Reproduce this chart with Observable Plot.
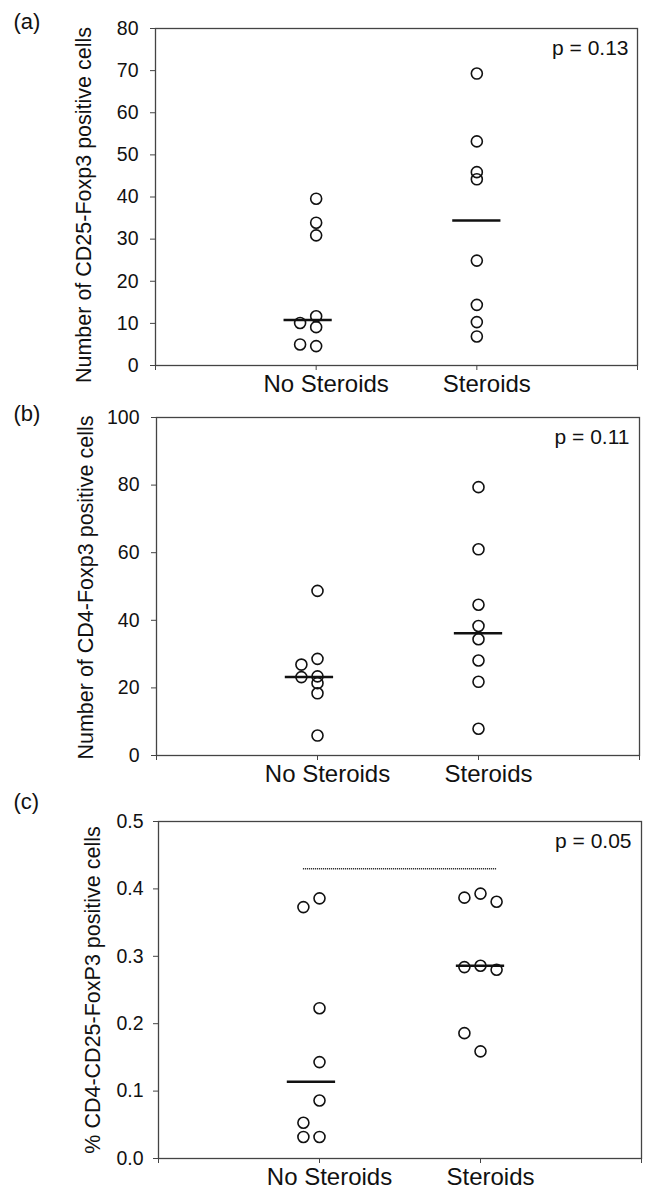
<!DOCTYPE html>
<html><head><meta charset="utf-8">
<script src="https://cdn.jsdelivr.net/npm/d3@7"></script>
<script src="https://cdn.jsdelivr.net/npm/@observablehq/plot@0.6"></script>
<style>
html,body{margin:0;padding:0;background:#fff;}
#chart svg{display:block;}
</style></head><body><div id="chart"></div>
<script>
// ---- categories ----
const groups = ["No Steroids", "Steroids"];
const panelLabels = ["(a)", "(b)", "(c)"];
const pValues = ["p = 0.13", "p = 0.11", "p = 0.05"];
const yTitles = [
  "Number of CD25-Foxp3 positive cells",
  "Number of CD4-Foxp3 positive cells",
  "% CD4-CD25-FoxP3 positive cells"
];
// ---- tick values ----
const yTicksA = [0, 10, 20, 30, 40, 50, 60, 70, 80];
const yTicksB = [0, 20, 40, 60, 80, 100];
const yTicksC = [0, 0.1, 0.2, 0.3, 0.4, 0.5];

// ---- panel (a): number of CD25-Foxp3 positive cells ----
const aNoSteroids    = [39.6, 33.9, 30.9, 11.7, 10.1, 9.1, 5.0, 4.6];
const aNoSteroidsCol = [0, 0, 0, 0, -1, 0, -1, 0];
const aSteroids      = [69.3, 53.2, 45.9, 44.2, 24.9, 14.4, 10.3, 6.9];
const aSteroidsCol   = [0, 0, 0, 0, 0, 0, 0, 0];
const aMedians       = [10.8, 34.4];

// ---- panel (b): number of CD4-Foxp3 positive cells ----
const bNoSteroids    = [48.7, 28.6, 26.9, 23.2, 23.4, 21.4, 18.4, 5.9];
const bNoSteroidsCol = [0, 0, -1, -1, 0, 0, 0, 0];
const bSteroids      = [79.4, 61.0, 44.6, 38.3, 34.4, 28.1, 21.8, 7.9];
const bSteroidsCol   = [0, 0, 0, 0, 0, 0, 0, 0];
const bMedians       = [23.2, 36.2];

// ---- panel (c): % CD4-CD25-FoxP3 positive cells ----
const cNoSteroids    = [0.373, 0.386, 0.223, 0.143, 0.086, 0.053, 0.032, 0.032];
const cNoSteroidsCol = [-1, 0, 0, 0, 0, -1, -1, 0];
const cSteroids      = [0.387, 0.393, 0.381, 0.284, 0.286, 0.280, 0.186, 0.159];
const cSteroidsCol   = [-1, 0, 1, -1, 0, 1, -1, 0];
const cMedians       = [0.114, 0.286];
const cSigBar        = 0.43;

// column offset of each group's median bar (in jitter columns)
const medianCol = [-0.5, 0];

const FONT = "'Liberation Sans', Arial, Helvetica, sans-serif";
const INK = "#111";
const LINE = "#444";
const JIT = 0.1;

function rows(noS, noSCol, st, stCol) {
  return [
    ...noS.map((v, i) => ({g: 0, v, col: noSCol[i]})),
    ...st.map((v, i) => ({g: 1, v, col: stCol[i]}))
  ];
}

function panel(o) {
  const data = rows(...o.series);
  const meds = o.medians.map((v, g) => ({g, v, col: medianCol[g]}));
  const marks = [
    Plot.frame({stroke: LINE, strokeWidth: 1.3}),
    Plot.axisY({ticks: o.yTicks, tickSize: 5, tickPadding: o.tickPad, tickFormat: o.fmt,
      fontSize: 19.5, label: null, stroke: LINE}),
    Plot.axisX({ticks: [0, 1, 2, 3], tickSize: 5, tickFormat: () => "", label: null, stroke: LINE}),
    Plot.axisX({ticks: [1, 2], tickSize: 0, tickPadding: 9, tickFormat: d => groups[d - 1],
      fontSize: 24, label: null, dx: 10}),
    Plot.dot(data, {x: d => d.g + 1 + d.col * JIT, y: "v", r: 5.5, stroke: INK, strokeWidth: 1.6, fill: "none"}),
    Plot.ruleY(meds, {y: "v", x1: d => d.g + 1 + d.col * JIT - 0.15, x2: d => d.g + 1 + d.col * JIT + 0.15,
      stroke: INK, strokeWidth: 2.5}),
    Plot.text([o.p], {frameAnchor: "top-right", dx: o.pdx, dy: 12, lineAnchor: "top", textAnchor: "end",
      fontSize: 21, fill: INK}),
    Plot.text([o.label], {frameAnchor: "top-left", dx: 13 - o.ml, dy: o.labelDy, lineAnchor: "top",
      textAnchor: "start", fontSize: 22, fill: INK}),
    Plot.text([o.title], {frameAnchor: "left", rotate: -90, textAnchor: "middle", lineAnchor: "middle",
      dx: o.titleDx, dy: o.titleDy, fontSize: 21.5, fill: INK})
  ];
  if (o.sig != null) {
    marks.push(Plot.ruleY([o.sig], {x1: 1 - JIT, x2: 2 + JIT, stroke: "#333", strokeWidth: 1.6,
      strokeDasharray: "1.2,0.8"}));
  }
  return Plot.plot({
    width: 645, height: o.h,
    marginTop: o.mt, marginBottom: o.mb, marginLeft: o.ml, marginRight: o.mr,
    x: {type: "linear", domain: [0, 3]},
    y: {domain: o.yDomain},
    style: {fontFamily: FONT, color: INK, background: "#fff", overflow: "visible"},
    marks
  });
}

const chart = document.getElementById("chart");
chart.append(panel({
  series: [aNoSteroids, aNoSteroidsCol, aSteroids, aSteroidsCol], medians: aMedians,
  yDomain: [0, 80], yTicks: yTicksA, fmt: d3.format("d"), tickPad: 12,
  p: pValues[0], label: panelLabels[0], title: yTitles[0],
  h: 398, mt: 28, mb: 33, ml: 155, mr: 8, pdx: -9, labelDy: -15, titleDx: -71, titleDy: 8
}));
chart.append(panel({
  series: [bNoSteroids, bNoSteroidsCol, bSteroids, bSteroidsCol], medians: bMedians,
  yDomain: [0, 100], yTicks: yTicksB, fmt: d3.format("d"), tickPad: 12,
  p: pValues[1], label: panelLabels[1], title: yTitles[1],
  h: 387, mt: 19, mb: 30, ml: 156, mr: 6, pdx: -10, labelDy: -12, titleDx: -70, titleDy: 1
}));
chart.append(panel({
  series: [cNoSteroids, cNoSteroidsCol, cSteroids, cSteroidsCol], medians: cMedians,
  yDomain: [0, 0.5], yTicks: yTicksC, fmt: d3.format(".1f"), tickPad: 10,
  p: pValues[2], label: panelLabels[2], title: yTitles[2], sig: cSigBar,
  h: 404, mt: 36, mb: 31, ml: 158, mr: 4, pdx: -10, labelDy: -28, titleDx: -65, titleDy: 0
}));
</script></body></html>
